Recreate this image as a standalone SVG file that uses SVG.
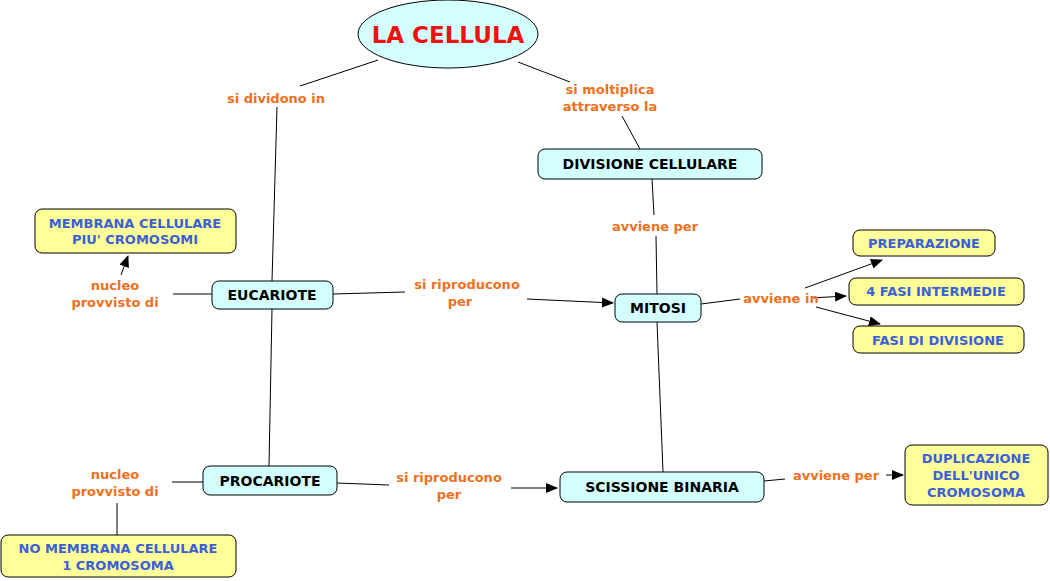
<svg xmlns="http://www.w3.org/2000/svg" width="1050" height="581" viewBox="0 0 1050 581">
<style>
text{font-family:"DejaVu Sans",Verdana,sans-serif;font-weight:bold;text-anchor:middle}
.c{fill:#d4ffff;stroke:#000;stroke-width:1}
.y{fill:#ffff99;stroke:#000;stroke-width:1}
.ct{font-size:14px;fill:#000}
.yt{font-size:13px;fill:#3a5fd8}
.lt{font-size:13px;fill:#f07020}
.ln{stroke:#000;stroke-width:1;fill:none}
.ar{stroke:#000;stroke-width:1;fill:none;marker-end:url(#a)}
</style>
<defs><marker id="a" markerWidth="12" markerHeight="10" refX="11" refY="5" orient="auto" markerUnits="userSpaceOnUse"><path d="M0,0 L12,5 L0,10 Z" fill="#000"/></marker></defs>
<rect width="1050" height="581" fill="#fff"/>
<g id="connectors">
<path class="ln" d="M378,60 L300,86 M277,107 L272,281 M518,62 L570,82 M622,116 L640,149 M652,179 L654,215 M656,236 L657,294 M272,309 L269,466 M657,322 L663,472 M212,294 L173,294 M333,294 L405,292 M701,304 L740,299 M203,482 L172,482 M117,503 L117,535 M337,483 L389,485 M764,481 L785,479"/>
<path class="ar" d="M121,275 L128,256"/>
<path class="ar" d="M527,299 L613,303"/>
<path class="ar" d="M805,288 L882,260"/>
<path class="ar" d="M811,298 L846,296"/>
<path class="ar" d="M816,307 L880,324"/>
<path class="ar" d="M511,488 L557,488"/>
<path class="ar" d="M886,475 L903,475"/>
</g>
<g id="labels">
<text class="lt" x="276" y="103">si dividono in</text>
<text class="lt" x="610" y="94">si moltiplica</text>
<text class="lt" x="610" y="111">attraverso la</text>
<text class="lt" x="655" y="231">avviene per</text>
<text class="lt" x="115" y="290">nucleo</text>
<text class="lt" x="115" y="307">provvisto di</text>
<text class="lt" x="467" y="289">si riproducono</text>
<text class="lt" x="460" y="306">per</text>
<text class="lt" x="781" y="303">avviene in</text>
<text class="lt" x="115" y="479">nucleo</text>
<text class="lt" x="115" y="496">provvisto di</text>
<text class="lt" x="449" y="482">si riproducono</text>
<text class="lt" x="449" y="499">per</text>
<text class="lt" x="836" y="480">avviene per</text>
</g>
<g id="la-cellula"><ellipse class="c" cx="448" cy="34" rx="90" ry="34"/><text x="448" y="43" font-size="23" fill="#ee1111">LA CELLULA</text></g>
<g id="divisione"><rect class="c" x="538" y="149" width="224" height="30" rx="7"/><text class="ct" x="650" y="169">DIVISIONE CELLULARE</text></g>
<g id="eucariote"><rect class="c" x="212" y="281" width="121" height="28" rx="7"/><text class="ct" x="272" y="300">EUCARIOTE</text></g>
<g id="mitosi"><rect class="c" x="615" y="294" width="86" height="28" rx="7"/><text class="ct" x="658" y="313">MITOSI</text></g>
<g id="procariote"><rect class="c" x="203" y="466" width="134" height="29" rx="7"/><text class="ct" x="270" y="486">PROCARIOTE</text></g>
<g id="scissione"><rect class="c" x="560" y="472" width="204" height="30" rx="7"/><text class="ct" x="662" y="492">SCISSIONE BINARIA</text></g>
<g id="membrana"><rect class="y" x="35" y="209" width="201" height="44" rx="7"/><text class="yt" x="135" y="228">MEMBRANA CELLULARE</text><text class="yt" x="135" y="244">PIU' CROMOSOMI</text></g>
<g id="preparazione"><rect class="y" x="853" y="230" width="142" height="26" rx="7"/><text class="yt" x="924" y="248">PREPARAZIONE</text></g>
<g id="fasi-intermedie"><rect class="y" x="849" y="278" width="175" height="27" rx="7"/><text class="yt" x="936" y="296">4 FASI INTERMEDIE</text></g>
<g id="fasi-divisione"><rect class="y" x="853" y="326" width="171" height="27" rx="7"/><text class="yt" x="938" y="345">FASI DI DIVISIONE</text></g>
<g id="duplicazione"><rect class="y" x="905" y="445" width="143" height="60" rx="7"/><text class="yt" x="976" y="463">DUPLICAZIONE</text><text class="yt" x="976" y="480">DELL'UNICO</text><text class="yt" x="976" y="497">CROMOSOMA</text></g>
<g id="no-membrana"><rect class="y" x="1" y="535" width="235" height="42" rx="7"/><text class="yt" x="118" y="553">NO MEMBRANA CELLULARE</text><text class="yt" x="118" y="570">1 CROMOSOMA</text></g>
</svg>
